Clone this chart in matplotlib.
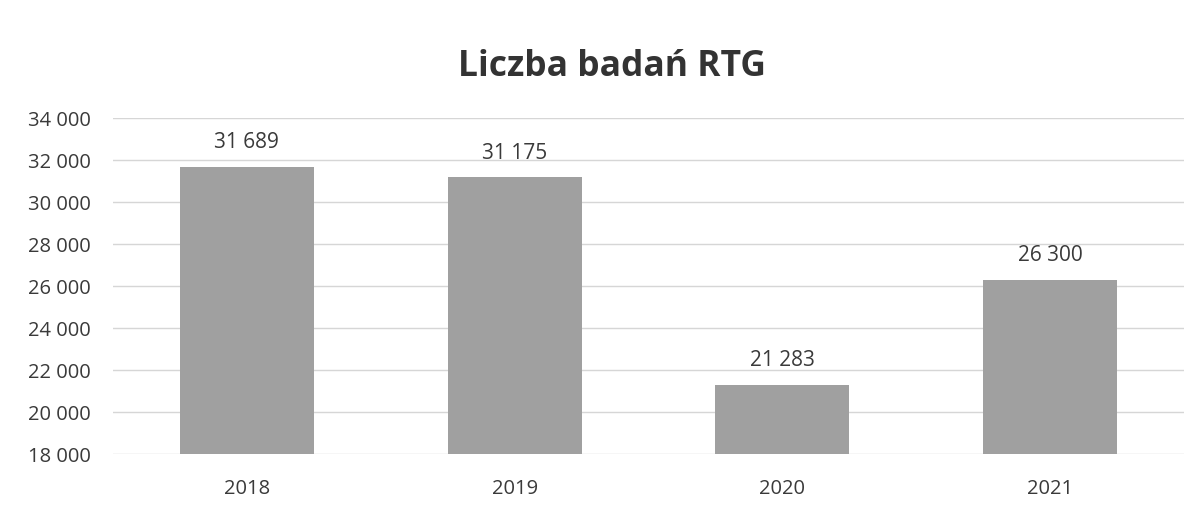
import matplotlib.pyplot as plt
from matplotlib.ticker import FuncFormatter

# data
years = ["2018", "2019", "2020", "2021"]
counts = [31689, 31175, 21283, 26300]

plt.rcParams['font.family'] = ['Open Sans', 'DejaVu Sans']
text_color = '#3a3a3a'


def spaced(v, pos=None):
    return '{:,}'.format(int(v)).replace(',', ' ')


fig = plt.figure(figsize=(11.84, 5.09), dpi=100)
ax = fig.add_axes([0.0954, 0.108, 0.9046, 0.660])

x = range(len(years))
ax.bar(x, counts, width=0.5, color='#a0a0a0', zorder=2)

for i, v in enumerate(counts):
    ax.annotate(spaced(v), (i, v), xytext=(0, 10), textcoords='offset points',
                ha='center', va='bottom', fontsize=15, color=text_color)

ax.set_xlim(-0.5, len(years) - 0.5)
ax.set_ylim(18000, 34000)
ax.set_yticks(range(18000, 34001, 2000))
ax.yaxis.set_major_formatter(FuncFormatter(spaced))
ax.set_xticks(list(x))
ax.set_xticklabels(years)
ax.tick_params(axis='y', length=0, pad=16, labelsize=14.5, labelcolor=text_color)
ax.tick_params(axis='x', length=0, pad=18, labelsize=14.5, labelcolor=text_color)
ax.grid(axis='y', color='#d6d6d6', linewidth=1, zorder=0)
for s in ax.spines.values():
    s.set_visible(False)

fig.text(0.517, 0.868, "Liczba badań RTG", ha='center', va='center',
         fontsize=25.5, fontweight='bold', color='#333333')

fig.savefig('out.png', dpi=100)
